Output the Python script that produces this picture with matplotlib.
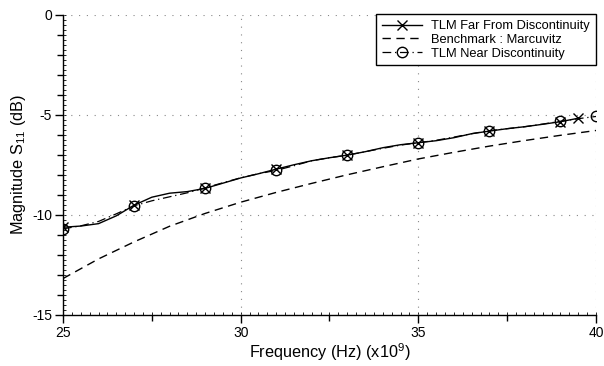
import matplotlib
matplotlib.use("Agg")
import matplotlib.pyplot as plt
from matplotlib.ticker import MultipleLocator, FixedLocator, NullFormatter

plt.rcParams['font.family'] = ['Liberation Sans', 'DejaVu Sans']
plt.rcParams['mathtext.fontset'] = 'custom'
plt.rcParams['mathtext.rm'] = 'Liberation Sans'
plt.rcParams['mathtext.it'] = 'Liberation Sans:italic'
plt.rcParams['axes.unicode_minus'] = False

# Frequency grids (x10^9 Hz)
freq_far = [25, 25.5, 26, 26.5, 27, 27.5, 28, 28.5, 29, 29.5, 30, 30.5, 31, 31.5,
            32, 32.5, 33, 33.5, 34, 34.5, 35, 35.5, 36, 36.5, 37, 37.5, 38, 38.5,
            39, 39.5]
freq_near = freq_far + [40]
freq_bench = [25, 26, 27, 28, 29, 30, 31, 32, 33, 34, 35, 36, 37, 38, 39, 40]

# |S11| in dB
s11_far = [-10.62, -10.56, -10.44, -10.05, -9.52, -9.12, -8.92, -8.84, -8.68, -8.42,
           -8.16, -7.95, -7.72, -7.5, -7.3, -7.15, -7.02, -6.85, -6.65, -6.5,
           -6.4, -6.3, -6.15, -5.95, -5.82, -5.7, -5.6, -5.48, -5.35, -5.18]
s11_near = [-10.7, -10.55, -10.33, -9.95, -9.55, -9.3, -9.1, -8.9, -8.65, -8.4,
            -8.15, -7.95, -7.78, -7.55, -7.3, -7.15, -7.02, -6.85, -6.68, -6.52,
            -6.4, -6.28, -6.12, -5.95, -5.8, -5.7, -5.6, -5.47, -5.33, -5.2, -5.09]
s11_bench = [-13.18, -12.2, -11.35, -10.57, -9.93, -9.37, -8.88, -8.43, -8.0,
             -7.6, -7.21, -6.88, -6.57, -6.29, -6.03, -5.79]

far_marks = [0, 4, 8, 12, 16, 20, 24, 28, 29]
near_marks = [0, 4, 8, 12, 16, 20, 24, 28, 30]

fig = plt.figure(figsize=(6.04, 3.66), dpi=100)
ax = fig.add_axes([63 / 604, 1 - 315 / 366, (596 - 63) / 604, (315 - 14.5) / 366])

ax.plot(freq_far, s11_far, color='black', lw=1.0, ls='-', marker='x',
        markevery=far_marks, ms=7.5, mew=1.0, label='TLM Far From Discontinuity')
ax.plot(freq_bench, s11_bench, color='black', lw=1.0, ls=(0, (6, 4)),
        label='Benchmark : Marcuvitz')
ax.plot(freq_near, s11_near, color='black', lw=0.9, ls=(0, (7, 3, 1, 3)),
        marker='o', mfc='none', markevery=near_marks, ms=7.5, mew=1.0,
        label='TLM Near Discontinuity')

ax.set_xlim(25, 40)
ax.set_ylim(-15, 0)
ax.xaxis.set_major_locator(FixedLocator([25, 30, 35, 40]))
ax.xaxis.set_minor_locator(FixedLocator([27.5, 32.5, 37.5]))
ax.yaxis.set_major_locator(MultipleLocator(5))
ax.yaxis.set_minor_locator(MultipleLocator(1))

ax.grid(True, which='major', color='#888888', ls=(0, (1, 6)), lw=0.8)
for side in ('top', 'right'):
    ax.spines[side].set_visible(False)
for side in ('left', 'bottom'):
    ax.spines[side].set_linewidth(1.0)

ax.tick_params(which='major', direction='out', length=6, width=1.0,
               labelsize=10, pad=2)
ax.tick_params(axis='x', which='minor', direction='out', length=4, width=1.0)
ax.tick_params(axis='y', which='minor', direction='out', length=4, width=1.0)

# Fine ruler ticks along both axes
rx = ax.secondary_xaxis('bottom')
rx.xaxis.set_major_locator(MultipleLocator(0.25))
rx.xaxis.set_major_formatter(NullFormatter())
rx.tick_params(direction='in', length=2, width=0.6)
rx.spines['bottom'].set_visible(False)
ry = ax.secondary_yaxis('left')
ry.yaxis.set_major_locator(MultipleLocator(0.25))
ry.yaxis.set_major_formatter(NullFormatter())
ry.tick_params(direction='in', length=2, width=0.6)
ry.spines['left'].set_visible(False)

ax.set_xlabel('Frequency (Hz) (x10$^9$)', fontsize=11.7, labelpad=1)
ax.set_ylabel('Magnitude S$_{11}$ (dB)', fontsize=11.7, labelpad=3)

leg = ax.legend(loc='upper right', borderaxespad=0, fontsize=9.3,
                frameon=True, fancybox=False, edgecolor='black',
                handlelength=3.1, handletextpad=0.75, labelspacing=0.12,
                borderpad=0.45)
leg.get_frame().set_linewidth(1.0)
leg.get_frame().set_alpha(1)

fig.savefig('out.png', dpi=100)
